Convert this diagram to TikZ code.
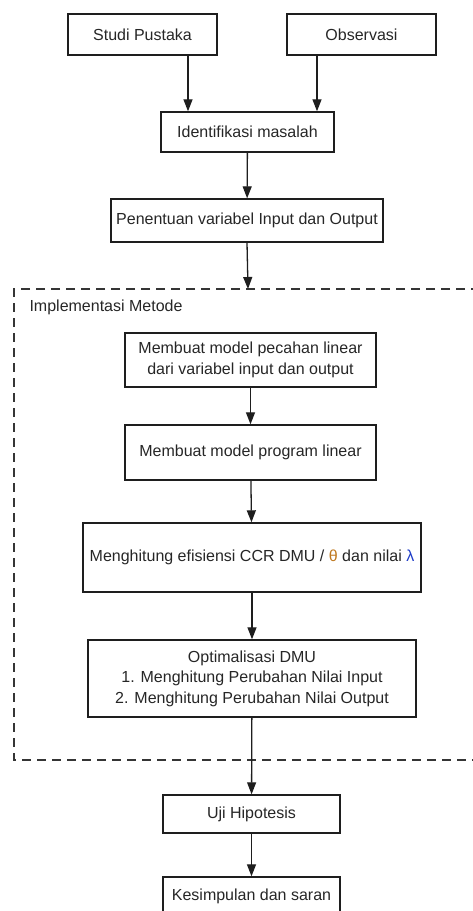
\documentclass[tikz,border=0pt]{standalone}
\usepackage{fontspec}
\setmainfont{Liberation Sans}
\usetikzlibrary{arrows.meta}
\definecolor{garis}{RGB}{30,30,30}
\definecolor{thetacol}{RGB}{190,120,30}
\definecolor{lambdacol}{RGB}{30,60,200}
\begin{document}
\begin{tikzpicture}[x=1pt,y=-1pt]
  	\tikzstyle{every node}=[font=\fontsize{16}{20.5}\selectfont, text=black!85]
  	\tikzstyle{kotak}=[draw=garis, line width=1.4pt, align=center, inner sep=0pt]
  	\tikzstyle{panah}=[draw=garis, line width=1.3pt, -{Triangle[length=12pt,width=9pt]}]
  	\useasboundingbox (0,0) rectangle (473,911);
  	% tahap awal
  	\node[kotak, minimum width=149pt, minimum height=41pt] (studi) at (142.5,34.5) {Studi Pustaka};
  	\node[kotak, minimum width=149pt, minimum height=41pt] (obs) at (361.5,34.5) {Observasi};
  	\node[kotak, minimum width=173pt, minimum height=40pt] (ident) at (247.5,132) {Identifikasi masalah};
  	\node[kotak, minimum width=272pt, minimum height=43pt] (tentu) at (247,220.5) {Penentuan variabel Input dan Output};
  	% implementasi metode
  	\draw[garis!90, line width=1.3pt, dash pattern=on 9pt off 6pt] (480,289) -| (14,760) -- (480,760);
  	\coordinate (atas) at (248,289);
  	\node[anchor=west] (judul) at (26,307) {Implementasi Metode};
  	\node[kotak, minimum width=251pt, minimum height=54pt] (pecahan) at (250.5,360) {Membuat model pecahan linear\\dari variabel input dan output};
  	\node[kotak, minimum width=251pt, minimum height=55pt] (program) at (250.5,452.5) {Membuat model program linear};
  	\node[kotak, minimum width=338pt, minimum height=69pt] (hitung) at (252,557.5) {Menghitung efisiensi CCR DMU / {\color{thetacol}θ} dan nilai {\color{lambdacol}λ}};
  	\node[kotak, minimum width=328pt, minimum height=77pt] (optim) at (252,678.5) {Optimalisasi DMU\\1. Menghitung Perubahan Nilai Input\\2. Menghitung Perubahan Nilai Output};
  	% tahap akhir
  	\node[kotak, minimum width=177pt, minimum height=38pt] (uji) at (251.5,814) {Uji Hipotesis};
  	\node[kotak, minimum width=177pt, minimum height=38pt] (simpul) at (251.5,896) {Kesimpulan dan saran};
  	% panah
  	\draw[panah] ([xshift=45.5pt]studi.south) -- ([xshift=45.5pt]studi.south |- ident.north);
  	\draw[panah] ([xshift=-44.5pt]obs.south) -- ([xshift=-44.5pt]obs.south |- ident.north);
  	\draw[panah] (ident) -- (tentu);
  	\draw[panah] (tentu.south) -- (atas);
  	\draw[panah] (pecahan) -- (program);
  	\draw[panah] (program) -- (hitung);
  	\draw[panah] (hitung) -- (optim);
  	\draw[panah] (optim) -- (uji);
  	\draw[panah] (uji) -- (simpul);
\end{tikzpicture}
\end{document}
